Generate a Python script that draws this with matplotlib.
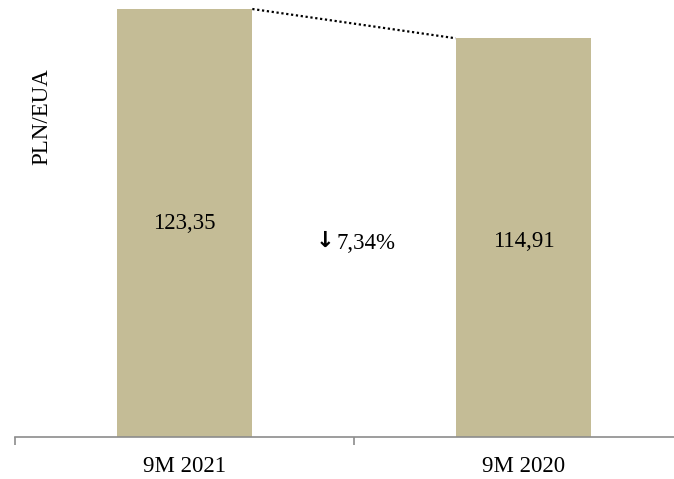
import matplotlib
matplotlib.use("Agg")
import matplotlib.pyplot as plt

categories = ["9M 2021", "9M 2020"]
values = [123.35, 114.91]
value_labels = ["123,35", "114,91"]
change_label = "7,34%"
y_label = "PLN/EUA"

W, H = 674, 479
fig = plt.figure(figsize=(W / 100, H / 100), dpi=100)
# axes extend past the right edge so the last tick falls off-canvas
ax = fig.add_axes([15 / W, 42 / H, 678 / W, 437 / H])

bar_color = "#C4BC96"
serif = ["Liberation Serif", "DejaVu Serif"]
fs = 16.5
x = list(range(len(categories)))
width = 0.4
ax.bar(x, values, width=width, color=bar_color, zorder=2)

ax.set_xlim(-0.5, len(categories) - 0.5)
ax.set_ylim(0, values[0] * 437 / 428)

# value labels in the middle of each bar
label_y = [61.4, 56.2]
for xi, ly, lab in zip(x, label_y, value_labels):
    ax.text(xi, ly, lab, ha="center", va="center", fontsize=fs,
            family=serif, color="#000000")

# dotted connector between bar tops
ax.plot([x[0] + width / 2, x[1] - width / 2], [values[0], values[1]],
        linestyle=(0, (1, 1.2)), color="black", linewidth=1.6, zorder=3)

# change annotation between the bars
mid_x = (x[0] + x[1]) / 2
ax.annotate("↓", xy=(mid_x, 56.4), xytext=(-21, 0), textcoords="offset points",
            ha="center", va="center", fontsize=16, fontweight="bold",
            family=["DejaVu Sans"])
ax.annotate(change_label, xy=(mid_x, 55.8), xytext=(9, 0),
            textcoords="offset points", ha="center", va="center",
            fontsize=fs, family=serif)

ax.set_xticks([-0.5, 0.5, 1.5], minor=False)
ax.set_xticklabels([])
ax.set_xticks(x, minor=True)
ax.set_xticklabels(categories, minor=True, fontsize=fs, family=serif)
ax.tick_params(axis="x", which="major", length=6, color="#8C8C8C", width=1.2,
               direction="out")
ax.tick_params(axis="x", which="minor", length=0, pad=14)
ax.set_yticks([])

for s in ["left", "right", "top"]:
    ax.spines[s].set_visible(False)
ax.spines["bottom"].set_color("#8C8C8C")
ax.spines["bottom"].set_linewidth(1.2)

fig.text(42 / W, 1 - 117 / H, y_label, rotation=90, ha="center", va="center",
         fontsize=fs, family=serif)

fig.savefig("out.png", dpi=100)
